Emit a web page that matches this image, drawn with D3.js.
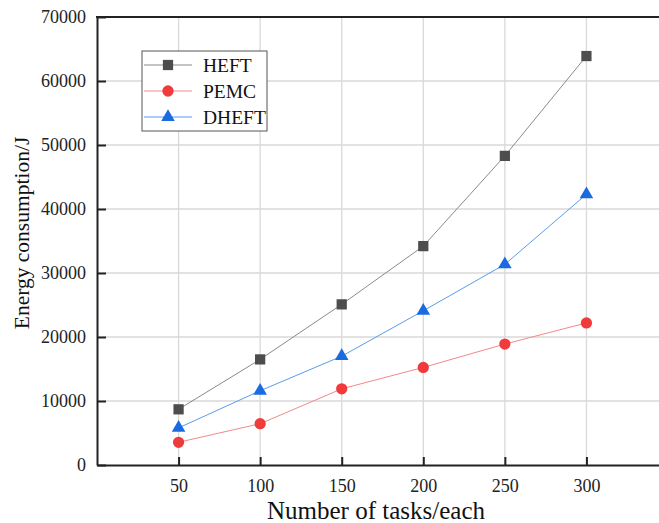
<!DOCTYPE html>
<html>
<head>
<meta charset="utf-8">
<script src="https://cdn.jsdelivr.net/npm/d3@7"></script>
<style>
  body { margin: 0; background: #fff; }
  svg { display: block; font-family: "Liberation Serif", "DejaVu Serif", serif; }
</style>
</head>
<body>
<svg></svg>
<script>
/* chart data */
var tasks = [50, 100, 150, 200, 250, 300];
var heft = [8700, 16500, 25100, 34200, 48300, 63900];
var pemc = [3550, 6450, 11900, 15250, 18900, 22200];
var dheft = [5800, 11600, 17000, 24100, 31350, 42300];
var yTicks = [0, 10000, 20000, 30000, 40000, 50000, 60000, 70000];

var series = [
  {name: 'HEFT', values: heft, line: '#8a8a8a', fill: '#4d4d4d', shape: d3.symbolSquare, size: 105},
  {name: 'PEMC', values: pemc, line: '#f08a8a', fill: '#ef3b3b', shape: d3.symbolCircle, size: 100},
  {name: 'DHEFT', values: dheft, line: '#5b9bec', fill: '#1a6be0', shape: d3.symbolTriangle, size: 80}
];

/* d3.js setting */
var svgWidth = 659;
var svgHeight = 523;
var margin = {top: 17, right: 0, bottom: 58, left: 97};
var width = 571;  // x domain runs to 350, past the window edge
var height = svgHeight - margin.top - margin.bottom;
var scale = {};

var svg = d3.select('svg')
    .attr('width', svgWidth)
    .attr('height', svgHeight);

setScale();
drawGrid();
drawAxis();
drawSeries();
drawLegend();

function setScale(){
  scale.x = d3.scaleLinear()
      .domain([0, 350])
      .range([0, width]);
  scale.y = d3.scaleLinear()
      .domain([0, 70000])
      .range([height, 0]);
}

function drawGrid(){
  var g = svg.append('g')
      .attr('transform', translate(margin.left, margin.top));
  g.selectAll('.vgrid')
      .data(tasks)
      .enter()
      .append('line')
      .attr('x1', function(d){return scale.x(d)})
      .attr('x2', function(d){return scale.x(d)})
      .attr('y1', 0)
      .attr('y2', height)
      .attr('stroke', '#d9d9d9')
      .attr('stroke-width', 1.3);
  g.selectAll('.hgrid')
      .data(yTicks.slice(1, -1))
      .enter()
      .append('line')
      .attr('x1', 0)
      .attr('x2', svgWidth)
      .attr('y1', function(d){return scale.y(d)})
      .attr('y2', function(d){return scale.y(d)})
      .attr('stroke', '#d9d9d9')
      .attr('stroke-width', 1.3);
}

function drawAxis(){
  var xAxis = svg.append('g')
      .attr('transform', translate(margin.left, margin.top + height))
      .call(d3.axisBottom(scale.x).tickValues(tasks).tickSize(-8).tickSizeOuter(0).tickPadding(14));
  var yAxis = svg.append('g')
      .attr('transform', translate(margin.left, margin.top))
      .call(d3.axisLeft(scale.y).tickValues(yTicks).tickSize(-9).tickSizeOuter(0).tickPadding(11).tickFormat(d3.format('d')));

  [xAxis, yAxis].forEach(function(a){
    a.select('.domain').attr('stroke', '#222').attr('stroke-width', 2);
    a.selectAll('.tick line').attr('stroke', '#222').attr('stroke-width', 2);
    a.selectAll('.tick text')
        .attr('fill', '#222')
        .style('font-family', '"Liberation Serif", serif')
        .style('font-size', '18px');
  });
  xAxis.selectAll('.tick text').attr('dy', '0.71em');

  // top frame line
  svg.append('line')
      .attr('x1', margin.left - 1)
      .attr('x2', svgWidth)
      .attr('y1', margin.top)
      .attr('y2', margin.top)
      .attr('stroke', '#222')
      .attr('stroke-width', 2);

  svg.append('text')
      .attr('x', 376)
      .attr('y', 519)
      .attr('text-anchor', 'middle')
      .attr('fill', '#111')
      .style('font-size', '25px')
      .text('Number of tasks/each');

  svg.append('text')
      .attr('transform', 'translate(29,233) rotate(-90)')
      .attr('text-anchor', 'middle')
      .attr('fill', '#111')
      .style('font-size', '21.5px')
      .text('Energy consumption/J');
}

function drawSeries(){
  var g = svg.append('g')
      .attr('transform', translate(margin.left, margin.top));
  series.forEach(function(s){
    var line = d3.line()
        .x(function(d, i){return scale.x(tasks[i])})
        .y(function(d){return scale.y(d)});
    g.append('path')
        .datum(s.values)
        .attr('d', line)
        .attr('fill', 'none')
        .attr('stroke', s.line)
        .attr('stroke-width', 1);
  });
  series.forEach(function(s){
    g.selectAll(null)
        .data(s.values)
        .enter()
        .append('path')
        .attr('d', d3.symbol().type(s.shape).size(s.size))
        .attr('transform', function(d, i){return translate(scale.x(tasks[i]), scale.y(d))})
        .attr('fill', s.fill);
  });
}

function drawLegend(){
  var lg = svg.append('g')
      .attr('transform', translate(142, 51));
  lg.append('rect')
      .attr('x', 0)
      .attr('y', 0)
      .attr('width', 125)
      .attr('height', 80)
      .attr('fill', '#fff')
      .attr('stroke', '#555')
      .attr('stroke-width', 1);
  series.forEach(function(s, i){
    var y = 14 + i * 26;
    lg.append('line')
        .attr('x1', 2)
        .attr('x2', 50)
        .attr('y1', y)
        .attr('y2', y)
        .attr('stroke', s.line)
        .attr('stroke-width', 1);
    lg.append('path')
        .attr('d', d3.symbol().type(s.shape).size(s.size))
        .attr('transform', translate(26, y))
        .attr('fill', s.fill);
    lg.append('text')
        .attr('x', 61)
        .attr('y', y)
        .attr('dy', '0.35em')
        .attr('fill', '#111')
        .style('font-size', '19.5px')
        .text(s.name);
  });
}

function translate(x, y) {
    return 'translate(' + x + ',' + y + ')';
}
</script>
</body>
</html>
